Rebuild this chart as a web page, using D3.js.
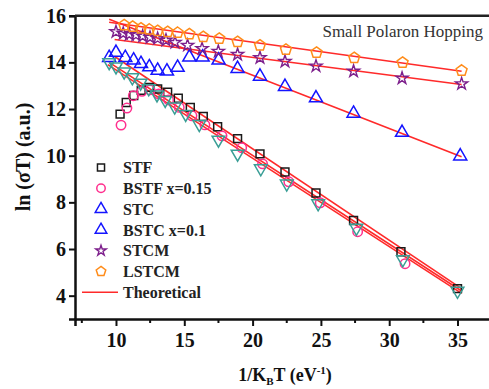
<!DOCTYPE html>
<html>
<head>
<meta charset="utf-8">
<script src="https://cdn.jsdelivr.net/npm/d3@7"></script>
<style>
  body { margin: 0; background: #fff; }
  svg { display: block; font-family: "Liberation Serif", "Times New Roman", serif; }
</style>
</head>
<body>
<svg id="chart" width="489" height="389"></svg>
<script>
// Datos: [1/KBT, ln(σT)]
const stf = [[10.3,11.78],[10.75,12.28],[11.3,12.58],[11.85,12.8],[12.45,12.93],[13.05,12.86],[13.78,12.72],
  [14.56,12.46],[15.44,12.07],[16.39,11.68],[17.44,11.24],[18.9,10.73],[20.54,10.08],[22.37,9.3],
  [24.64,8.4],[27.39,7.22],[30.86,5.88],[35.0,4.3]];
const bstf = [[10.37,11.31],[10.8,12.04],[11.27,12.57],[11.9,12.76],[12.49,12.82],[13.12,12.65],[13.85,12.39],
  [14.63,12.07],[15.56,11.71],[16.51,11.32],[17.76,10.85],[19.2,10.34],[20.73,9.65],[22.65,8.88],
  [24.95,7.98],[27.69,6.74],[31.16,5.37]];
const stc = [[9.5,14.2],[10.0,14.42],[10.68,14.2],[11.29,14.09],[11.83,13.94],[12.44,13.8],[13.05,13.65],
  [13.73,13.62],[14.51,13.78],[15.37,14.22],[16.34,14.22],[17.51,14.09],[18.9,13.73],[20.54,13.4],
  [22.37,12.96],[24.64,12.47],[27.39,11.81],[30.94,10.99],[35.2,9.98]];
const bstc = [[9.5,14.0],[10.0,13.82],[10.6,13.6],[11.2,13.35],[11.8,13.12],[12.4,12.88],[13.0,12.62],
  [13.6,12.38],[14.3,12.1],[15.1,11.78],[16.1,11.35],[17.5,10.68],[18.9,10.08],[20.6,9.45],
  [22.5,8.8],[24.8,7.95],[27.6,6.9],[31.0,5.55],[35.0,4.2]];
const stcm = [[10.0,15.31],[10.53,15.24],[10.97,15.2],[11.46,15.17],[11.95,15.12],[12.49,15.07],[13.05,15.02],
  [13.66,14.95],[14.32,14.85],[15.24,14.73],[16.3,14.59],[17.49,14.47],[18.9,14.34],[20.54,14.2],
  [22.37,14.04],[24.64,13.84],[27.39,13.62],[30.94,13.32],[35.3,13.08]];
const lstcm = [[10.6,15.6],[11.22,15.53],[11.83,15.46],[12.44,15.41],[13.05,15.35],[13.78,15.31],[14.51,15.27],
  [15.37,15.21],[16.39,15.09],[17.56,15.02],[18.9,14.88],[20.54,14.73],[22.44,14.55],[24.68,14.42],
  [27.44,14.19],[30.98,13.99],[35.3,13.65]];

// Rectas teóricas (extremos)
const fits = [
  [[9.5,15.72],[35.3,13.62]],   // LSTCM
  [[9.9,14.98],[35.3,13.05]],   // STCM
  [[9.5,15.85],[35.3,9.95]],    // STC
  [[9.9,14.25],[35.3,4.3]],     // STF
  [[9.5,14.0],[35.3,4.2]],      // BSTF
  [[9.4,13.9],[35.3,4.1]]       // BSTC
];

const xTicks = [10, 15, 20, 25, 30, 35];
const xMinor = [7.5, 12.5, 17.5, 22.5, 27.5, 32.5, 37.5];
const yTicks = [4, 6, 8, 10, 12, 14, 16];

const legendNames = ["STF", "BSTF x=0.15", "STC", "BSTC x=0.1", "STCM", "LSTCM", "Theoretical"];

// Estilos de cada serie
const series = [
  { data: stf,   shape: "square",   color: "#1a1a1a", size: 62 },
  { data: bstf,  shape: "circle",   color: "#ff2f8e", size: 70 },
  { data: stc,   shape: "triangle", color: "#1414ff", size: 74 },
  { data: bstc,  shape: "tridown",  color: "#3a9e96", size: 70 },
  { data: stcm,  shape: "star",     color: "#7d1f8c", size: 46 },
  { data: lstcm, shape: "pentagon", color: "#ff8c1a", size: 78 }
];
const lineColor = "#ff2a2a";

const svg = d3.select("#chart");

const xScale = d3.scaleLinear().domain([7, 38]).range([75, 498.5]);
const yScale = d3.scaleLinear().domain([3, 16]).range([319, 15.7]);

// Pentágono propio (d3 no lo trae)
const pentagon = {
  draw(ctx, size) {
    const r = Math.sqrt(size / 2.378);
    for (let i = 0; i < 5; i++) {
      const a = -Math.PI / 2 + i * 2 * Math.PI / 5;
      const px = r * Math.cos(a), py = r * Math.sin(a);
      if (i === 0) ctx.moveTo(px, py); else ctx.lineTo(px, py);
    }
    ctx.closePath();
  }
};

function symbolPath(shape, size) {
  const types = {
    square: d3.symbolSquare, circle: d3.symbolCircle, triangle: d3.symbolTriangle,
    tridown: d3.symbolTriangle, star: d3.symbolStar, pentagon: pentagon
  };
  return d3.symbol().type(types[shape]).size(size)();
}

function drawMarker(g, shape, color, size, x, y) {
  g.append("path")
    .attr("d", symbolPath(shape, size))
    .attr("transform", `translate(${x},${y})` + (shape === "tridown" ? " rotate(180)" : ""))
    .attr("fill", "none")
    .attr("stroke", color)
    .attr("stroke-width", shape === "star" ? 1.4 : 1.5);
}

// Ejes
const xAxis = d3.axisBottom(xScale).tickValues(xTicks).tickSize(7).tickPadding(4);
const yAxis = d3.axisLeft(yScale).tickValues(yTicks).tickSize(6).tickPadding(3);

const gx = svg.append("g").attr("transform", `translate(0,${yScale(3)})`).call(xAxis);
const gy = svg.append("g").attr("transform", `translate(${xScale(7)},0)`).call(yAxis);

[gx, gy].forEach(g => {
  g.attr("font-family", "Liberation Serif");
  g.select(".domain").attr("stroke", "#111").attr("stroke-width", 2.5);
  g.selectAll(".tick line").attr("stroke", "#111").attr("stroke-width", 2);
  g.selectAll(".tick text")
    .attr("fill", "#111")
    .attr("font-weight", "bold")
    .attr("font-size", "20px");
});
gx.selectAll(".tick text").attr("dy", "0.85em");

// Ticks menores del eje X
svg.append("g").selectAll("line")
  .data(xMinor)
  .join("line")
  .attr("x1", d => xScale(d)).attr("x2", d => xScale(d))
  .attr("y1", yScale(3)).attr("y2", yScale(3) + 4)
  .attr("stroke", "#111").attr("stroke-width", 2);

// Marco superior
svg.append("line")
  .attr("x1", xScale(7)).attr("x2", 489)
  .attr("y1", yScale(16)).attr("y2", yScale(16))
  .attr("stroke", "#222").attr("stroke-width", 2.5);

// Rectas teóricas
const line = d3.line().x(d => xScale(d[0])).y(d => yScale(d[1]));
svg.append("g").selectAll("path")
  .data(fits)
  .join("path")
  .attr("d", line)
  .attr("fill", "none")
  .attr("stroke", lineColor)
  .attr("stroke-width", 1.6);

// Puntos experimentales
series.forEach(s => {
  const g = svg.append("g");
  s.data.forEach(d => drawMarker(g, s.shape, s.color, s.size, xScale(d[0]), yScale(d[1])));
});

// Título interno
svg.append("text")
  .attr("x", 483).attr("y", 37)
  .attr("text-anchor", "end")
  .attr("font-size", "17px")
  .attr("fill", "#333")
  .text("Small Polaron Hopping");

// Leyenda (el símbolo de BSTC en la leyenda es un triángulo azul, como en el original)
const legendShapes = [
  ["square", "#1a1a1a", 50], ["circle", "#ff2f8e", 56], ["triangle", "#1414ff", 58],
  ["triangle", "#1414ff", 58], ["star", "#7d1f8c", 34], ["pentagon", "#ff8c1a", 60]
];
const legY0 = 167.5, legStep = 20.8;
const leg = svg.append("g");
legendNames.forEach((name, i) => {
  const y = legY0 + i * legStep;
  if (i < legendShapes.length) {
    drawMarker(leg, legendShapes[i][0], legendShapes[i][1], legendShapes[i][2], 101, y);
  } else {
    leg.append("line")
      .attr("x1", 82).attr("x2", 118).attr("y1", y).attr("y2", y)
      .attr("stroke", lineColor).attr("stroke-width", 1.6);
  }
  leg.append("text")
    .attr("x", 123).attr("y", y).attr("dy", "0.35em")
    .attr("font-size", "16px").attr("font-weight", "bold")
    .attr("fill", "#222")
    .text(name);
});

// Títulos de los ejes
svg.append("text")
  .attr("transform", `translate(30,157) rotate(-90)`)
  .attr("text-anchor", "middle")
  .attr("font-size", "20px").attr("font-weight", "bold")
  .attr("fill", "#111")
  .text("ln (σT) (a.u.)");

const xt = svg.append("text")
  .attr("x", 285).attr("y", 381)
  .attr("text-anchor", "middle")
  .attr("font-size", "18px").attr("font-weight", "bold")
  .attr("fill", "#111");
xt.append("tspan").text("1/K");
xt.append("tspan").attr("font-size", "11px").attr("dy", 4).text("B");
xt.append("tspan").attr("dy", -4).text("T (eV");
xt.append("tspan").attr("font-size", "11px").attr("dy", -7).text("-1");
xt.append("tspan").attr("dy", 7).text(")");
</script>
</body>
</html>
